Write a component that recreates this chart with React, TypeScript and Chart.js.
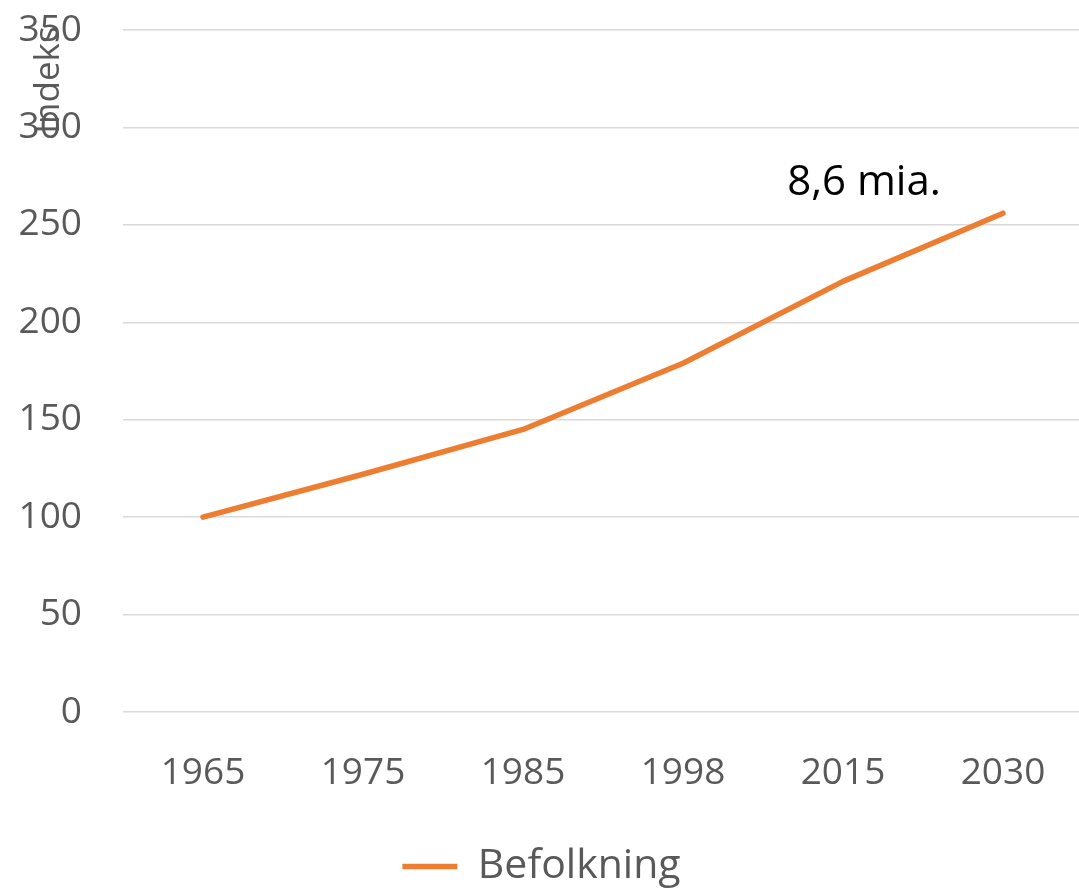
import React, { useEffect, useRef } from 'react';
import { Chart, registerables } from 'chart.js';

Chart.register(...registerables);

const categories = ['1965', '1975', '1985', '1998', '2015', '2030'];
const befolkning = [100, 122, 145, 179, 221, 256];
const seriesLabel = 'Befolkning';
const annotationText = '8,6 mia.';
const yAxisTitle = 'Indeks';
const yMin = 0;
const yMax = 350;
const yStep = 50;

const FONT = '"Open Sans", "Noto Sans", sans-serif';
const TEXT_GRAY = '#595959';
const ORANGE = '#ED7D31';

export default function App() {
  const ref = useRef<HTMLCanvasElement>(null);

  useEffect(() => {
    const canvas = ref.current;
    if (!canvas) return;

    const lastLabelPlugin = {
      id: 'lastLabel',
      afterDatasetsDraw(chart: any) {
        const meta = chart.getDatasetMeta(0);
        const pt = meta.data[meta.data.length - 1];
        if (!pt) return;
        const ctx = chart.ctx;
        ctx.save();
        ctx.font = `42px ${FONT}`;
        ctx.fillStyle = '#000000';
        ctx.textAlign = 'center';
        ctx.textBaseline = 'alphabetic';
        ctx.fillText(annotationText, pt.x - 139, pt.y - 18);
        ctx.restore();
      },
    };

    const yTitlePlugin = {
      id: 'yTitle',
      afterDraw(chart: any) {
        const ctx = chart.ctx;
        ctx.save();
        ctx.translate(59, 80);
        ctx.rotate(-Math.PI / 2);
        ctx.font = `35px ${FONT}`;
        ctx.fillStyle = TEXT_GRAY;
        ctx.textAlign = 'center';
        ctx.textBaseline = 'alphabetic';
        ctx.fillText(yAxisTitle, 0, 0);
        ctx.restore();
      },
    };

    const chart = new Chart(canvas, {
      type: 'line',
      data: {
        labels: categories,
        datasets: [
          {
            label: seriesLabel,
            data: befolkning,
            borderColor: ORANGE,
            backgroundColor: ORANGE,
            borderWidth: 5.5,
            pointRadius: 0,
            pointHoverRadius: 0,
            tension: 0,
            borderCapStyle: 'round',
            borderJoinStyle: 'round',
          },
        ],
      },
      options: {
        responsive: false,
        animation: false,
        layout: { autoPadding: false, padding: { top: 30, left: 0, right: 0, bottom: -7 } },
        plugins: {
          legend: {
            position: 'bottom',
            labels: {
              usePointStyle: true,
              pointStyle: 'line',
              pointStyleWidth: 55,
              color: TEXT_GRAY,
              font: { family: FONT, size: 41 },
              padding: 10,
            },
          },
          tooltip: { enabled: false },
        },
        scales: {
          x: {
            offset: true,
            grid: { display: false, offset: true },
            border: { display: false },
            ticks: {
              color: TEXT_GRAY,
              font: { family: FONT, size: 37 },
              padding: 31,
              maxRotation: 0,
              autoSkip: false,
            },
            afterFit(scale: any) {
              scale.height = 124;
            },
          },
          y: {
            min: yMin,
            max: yMax,
            grid: {
              color: '#d9d9d9',
              lineWidth: 1.5,
              drawTicks: true,
              tickLength: 41,
              tickColor: 'rgba(0,0,0,0)',
            },
            border: { display: false },
            ticks: {
              stepSize: yStep,
              color: TEXT_GRAY,
              font: { family: FONT, size: 37 },
              padding: 0,
            },
            afterFit(scale: any) {
              scale.width = 123;
            },
          },
        },
      },
      plugins: [lastLabelPlugin, yTitlePlugin],
    });

    let alive = true;
    if ((document as any).fonts && (document as any).fonts.load) {
      Promise.all([
        (document as any).fonts.load(`37px "Open Sans"`),
        (document as any).fonts.load(`41px "Open Sans"`),
      ]).then(() => {
        if (alive) chart.update();
      }).catch(() => {});
    }

    return () => {
      alive = false;
      chart.destroy();
    };
  }, []);

  return (
    <div style={{ position: 'fixed', left: 0, top: 0, width: 1083, height: 890 }}>
      <canvas ref={ref} width={1083} height={890} style={{ display: 'block' }} />
    </div>
  );
}
